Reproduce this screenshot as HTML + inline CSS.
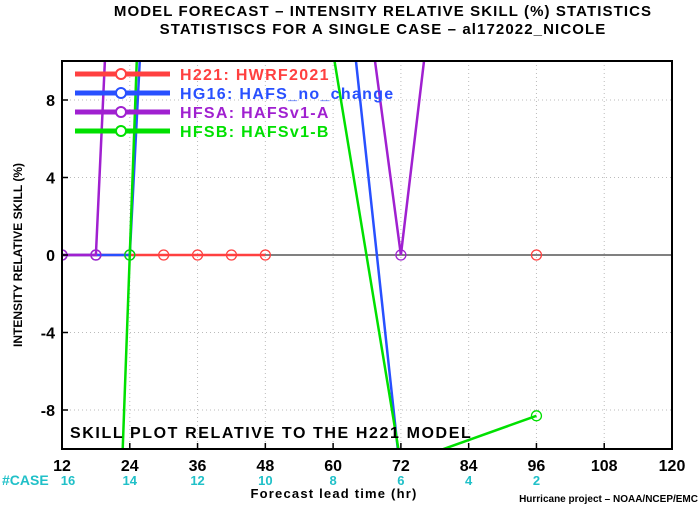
<!DOCTYPE html>
<html><head><meta charset="utf-8"><style>
body{margin:0;background:#fff;overflow:hidden;}
svg{display:block;}
svg text{font-family:"Liberation Sans",sans-serif;font-weight:bold;}
</style></head><body>
<svg width="700" height="506" viewBox="0 0 700 506" xmlns="http://www.w3.org/2000/svg" id="chart">
<text x="383" y="16" text-anchor="middle" font-size="15" font-weight="normal" letter-spacing="1.1">MODEL FORECAST – INTENSITY RELATIVE SKILL (%) STATISTICS</text>
<text x="383" y="34" text-anchor="middle" font-size="15" font-weight="normal" letter-spacing="1.1">STATISTISCS FOR A SINGLE CASE – al172022_NICOLE</text>
<defs><clipPath id="pc"><rect x="62" y="61" width="610" height="388"/></clipPath></defs>
<g id="grid"></g>
<g id="series" clip-path="url(#pc)"></g>
<rect x="62" y="61" width="610" height="388" fill="none" stroke="#000" stroke-width="2"/>
<g id="axes"></g>
<text transform="translate(22,255) rotate(-90)" text-anchor="middle" font-size="12">INTENSITY RELATIVE SKILL (%)</text>
<text x="334" y="498" text-anchor="middle" font-size="13" letter-spacing="1.2">Forecast lead time (hr)</text>
<text x="2" y="485" font-size="14" fill="#20c0c8">#CASE</text>
<text x="698" y="502" text-anchor="end" font-size="10" font-weight="normal">Hurricane project – NOAA/NCEP/EMC</text>
<text x="70" y="438" font-size="16" letter-spacing="1.6">SKILL PLOT RELATIVE TO THE H221 MODEL</text>
<g id="legend"></g>
</svg>
<script>
const xTicks=[12,24,36,48,60,72,84,96,108,120];
const caseCounts=[16,14,12,10,8,6,4,2];
const yTicks=[-8,-4,0,4,8];
const leads=[12,18,24,30,36,42,48,72,96];
const names=["H221: HWRF2021","HG16: HAFS_no_change","HFSA: HAFSv1-A","HFSB: HAFSv1-B"];
const colors=["#ff4040","#2850ff","#a020d0","#00e000"];
const h221=[0,0,0,0,0,0,0,null,0];
const hg16=[0,0,0,34,40,47,53.4,-11.5,null];
const hfsa=[0,0,37.7,40,45,49,52.4,0,58.7];
const hfsb=[null,-48,0,48.6,42,37,31.7,-10.8,-8.3];
const seriesVals=[h221,hg16,hfsa,hfsb];
const X=v=>62+(v-12)*610/108, Y=v=>255-v*19.375;
const NS="http://www.w3.org/2000/svg";
function mk(tag,attrs,parent){const e=document.createElementNS(NS,tag);for(const k in attrs)e.setAttribute(k,attrs[k]);parent.appendChild(e);return e;}
const grid=document.getElementById('grid'),axes=document.getElementById('axes'),ser=document.getElementById('series'),leg=document.getElementById('legend');
xTicks.forEach((t,i)=>{
 if(t>12&&t<120){const l=mk('line',{x1:X(t),x2:X(t),y1:61,y2:449,stroke:'#bbb','stroke-dasharray':'1,3'},grid);
 }
 const tk=mk('line',{x1:X(t),x2:X(t),y1:449,y2:443,stroke:'#000','stroke-width':1.5},axes);
 
 const tx=mk('text',{x:X(t),y:471,'text-anchor':'middle','font-size':16},axes);tx.textContent=t;
 
 if(i<caseCounts.length){const c=mk('text',{x:X(t)+(i==0?6:0),y:485,'text-anchor':'middle','font-size':13,fill:'#20c0c8'},axes);c.textContent=caseCounts[i];
 }
});
yTicks.forEach(t=>{
 if(t!==0){const l=mk('line',{x1:62,x2:672,y1:Y(t),y2:Y(t),stroke:'#bbb','stroke-dasharray':'1,3'},grid);
 }
 const tk=mk('line',{x1:62,x2:68,y1:Y(t),y2:Y(t),stroke:'#000','stroke-width':1.5},axes);
 
 const tx=mk('text',{x:55,y:Y(t)+6,'text-anchor':'end','font-size':16},axes);tx.textContent=t;
 
});
const z=mk('line',{x1:62,x2:672,y1:Y(0),y2:Y(0),stroke:'#000','stroke-width':1},grid);

seriesVals.forEach((vals,si)=>{
 let d='',prev=false;
 vals.forEach((v,i)=>{if(v===null){prev=false;return;}d+=(prev?'L':'M')+X(leads[i])+','+Y(v);prev=true;});
 const p=mk('path',{d:d,fill:'none',stroke:colors[si],'stroke-width':2.5},ser);
 
 vals.forEach((v,i)=>{if(v===null)return;const c=mk('circle',{cx:X(leads[i]),cy:Y(v),r:5,fill:'none',stroke:colors[si],'stroke-width':1.3},ser);
 });
});
names.forEach((n,i)=>{
 const y=74+i*19;
 const l=mk('line',{x1:75,x2:170,y1:y,y2:y,stroke:colors[i],'stroke-width':5},leg);
 
 const c=mk('circle',{cx:121,cy:y,r:5,fill:'#fff',stroke:colors[i],'stroke-width':2},leg);
 
 const t=mk('text',{x:180,y:y+6,'font-size':16,fill:colors[i],'letter-spacing':1.3},leg);t.textContent=n;
 
});
</script>
</body></html>
